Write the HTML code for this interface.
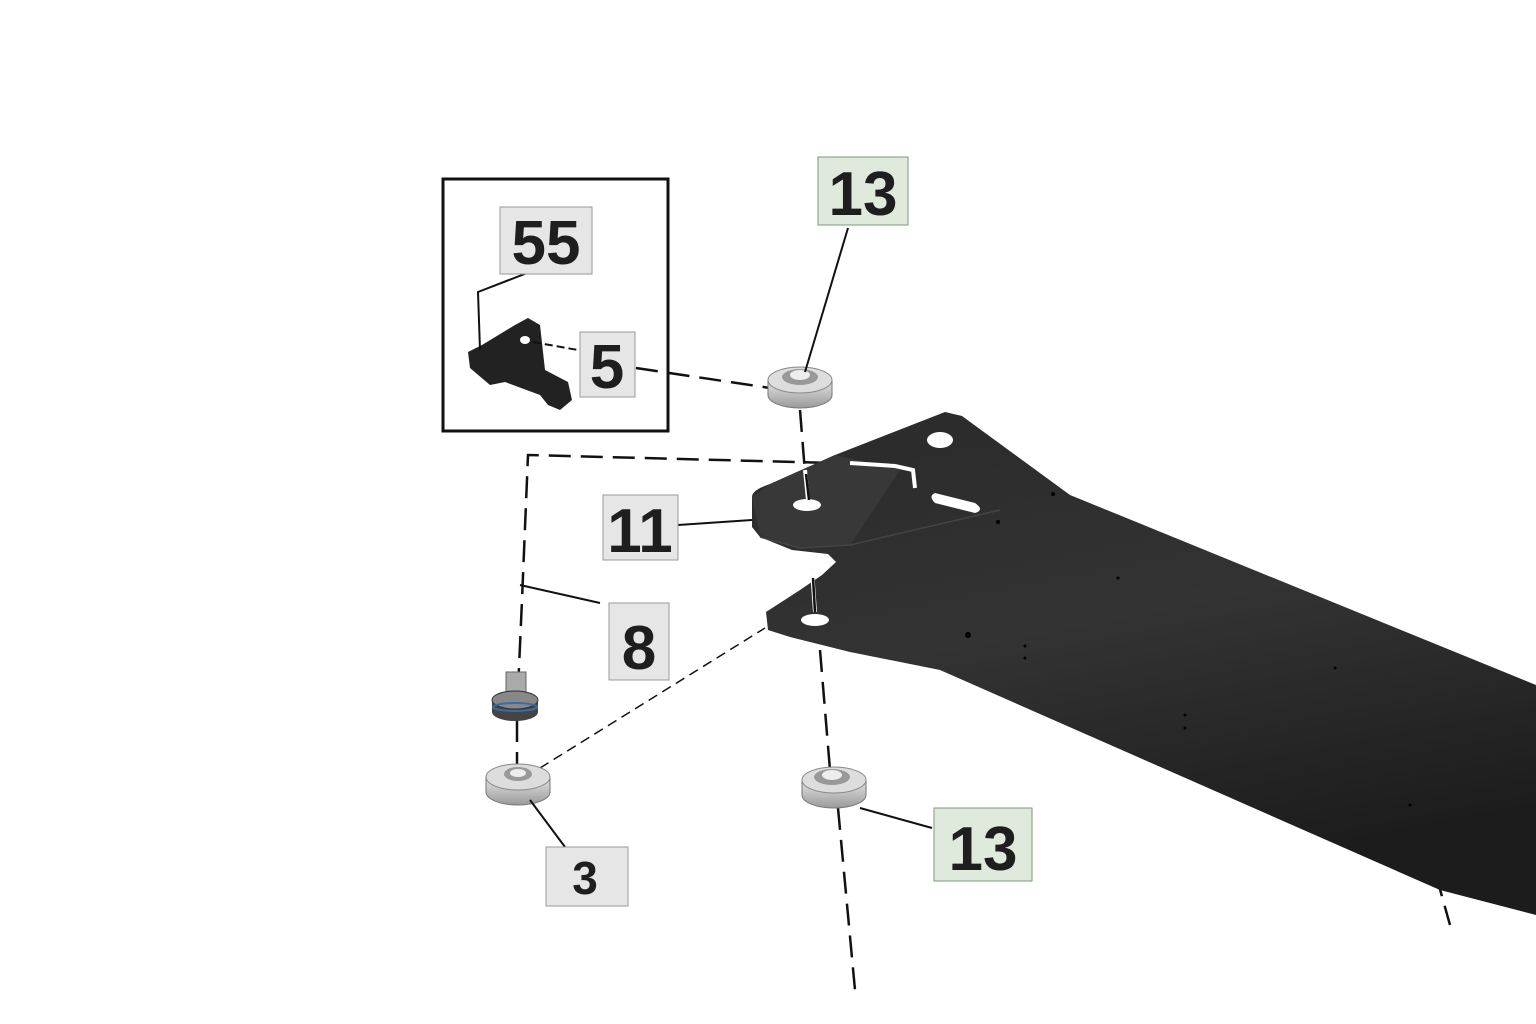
<!DOCTYPE html>
<html><head><meta charset="utf-8"><style>
html,body{margin:0;padding:0;background:#fff;}
svg{display:block}
text{font-family:"Liberation Sans",sans-serif;font-weight:bold;fill:#1e1e1e;text-anchor:middle}
</style></head><body>
<svg width="1536" height="1024" viewBox="0 0 1536 1024">
<defs>
<linearGradient id="beam" x1="0" y1="0" x2="0.3" y2="1">
<stop offset="0" stop-color="#2a2a2a"/><stop offset="0.5" stop-color="#333"/><stop offset="1" stop-color="#1c1c1c"/>
</linearGradient>
<linearGradient id="wash" x1="0" y1="0" x2="0" y2="1">
<stop offset="0" stop-color="#e4e4e4"/><stop offset="1" stop-color="#9a9a9a"/>
</linearGradient>
</defs>
<rect x="443" y="179" width="225" height="252" fill="none" stroke="#111" stroke-width="3"/>
<path d="M468,352 L482,345 L515,325 L528,318 L540,325 L545,370 L568,382 L572,400 L560,410 L548,405 L540,395 L505,382 L490,385 L470,368 Z" fill="#222"/>
<ellipse cx="525" cy="340" rx="5" ry="4" fill="#fff"/>
<polyline points="540,268 478,292 480,350" fill="none" stroke="#111" stroke-width="2"/>
<line x1="533" y1="342" x2="578" y2="350" stroke="#111" stroke-width="2" stroke-dasharray="8,4"/>
<g stroke="#111" fill="none" stroke-width="2.5" stroke-dasharray="22,10">
<line x1="636" y1="368" x2="770" y2="388"/>
<line x1="800" y1="410" x2="808" y2="510"/>
<line x1="812" y1="570" x2="815" y2="625"/>
<line x1="820" y1="650" x2="830" y2="770"/>
<line x1="838" y1="808" x2="855" y2="990"/>
<polyline points="518,690 522,600 528,455 910,465 915,490"/>
<line x1="517" y1="720" x2="517" y2="765"/>
<line x1="1436" y1="875" x2="1450" y2="925"/>
</g>
<g stroke="#111" fill="none" stroke-width="1.5" stroke-dasharray="10,6">
<line x1="540" y1="768" x2="765" y2="628"/>
</g>
<path d="M752,497 Q752,490 770,484 L835,455 L945,412 L962,416 L1070,495 L1536,685 L1536,915 L1440,890 L940,670 L850,652 L790,637 L768,630 L766,612 L800,590 L822,575 L836,562 L828,554 L792,550 L760,537 L752,527 Z" fill="url(#beam)"/>
<path d="M752,497 L770,484 L835,455 L900,470 L850,545 L800,548 L760,535 Z" fill="#383838"/>
<path d="M760,537 L800,548 L850,545 L1000,510" fill="none" stroke="#444" stroke-width="1.5"/>
<ellipse cx="940" cy="440" rx="13" ry="8" fill="#fff"/>
<ellipse cx="807" cy="505" rx="14" ry="6" fill="#fff"/>
<ellipse cx="815" cy="620" rx="14" ry="6" fill="#fff"/>
<path d="M935,493 L975,503 Q985,510 975,513 L935,503 Q928,496 935,493 Z" fill="#fff"/>
<g stroke="#fff" stroke-width="4" fill="none">
<line x1="805" y1="470" x2="808" y2="500"/>
<line x1="812" y1="570" x2="815" y2="612"/>
<polyline points="850,463 895,466 913,470 915,488"/>
</g>
<g stroke="#111" stroke-width="2.5" fill="none">
<line x1="806" y1="474" x2="809" y2="500"/>
<line x1="813" y1="578" x2="815" y2="612"/>
</g>
<g fill="#000"><circle cx="1053" cy="494" r="2"/><circle cx="998" cy="522" r="2"/><circle cx="968" cy="635" r="3"/><circle cx="1025" cy="646" r="1.5"/><circle cx="1025" cy="658" r="1.5"/><circle cx="1118" cy="578" r="1.5"/><circle cx="1335" cy="668" r="1.5"/><circle cx="1185" cy="715" r="1.5"/><circle cx="1185" cy="728" r="1.5"/><circle cx="1410" cy="805" r="1.5"/></g>
<g>
<path d="M768,380 L768,395 A32,13 0 0 0 832,395 L832,380 Z" fill="url(#wash)" stroke="#777"/>
<ellipse cx="800" cy="380" rx="32" ry="13" fill="#ddd" stroke="#888"/>
<ellipse cx="800" cy="377" rx="18" ry="8" fill="#999"/>
<ellipse cx="800" cy="375" rx="10" ry="5" fill="#eee"/>
</g>
<g>
<path d="M802,780 L802,795 A32,13 0 0 0 866,795 L866,780 Z" fill="url(#wash)" stroke="#777"/>
<ellipse cx="834" cy="780" rx="32" ry="13" fill="#ddd" stroke="#888"/>
<ellipse cx="832" cy="777" rx="18" ry="8" fill="#999"/>
<ellipse cx="832" cy="775" rx="10" ry="5" fill="#eee"/>
</g>
<g>
<path d="M486,777 L486,792 A32,13 0 0 0 550,792 L550,777 Z" fill="url(#wash)" stroke="#777"/>
<ellipse cx="518" cy="777" rx="32" ry="13" fill="#ddd" stroke="#888"/>
<ellipse cx="518" cy="774" rx="14" ry="7" fill="#999"/>
<ellipse cx="518" cy="773" rx="8" ry="4" fill="#eee"/>
</g>
<g>
<rect x="506" y="672" width="20" height="26" fill="#aaa" stroke="#666"/>
<path d="M492,700 L492,712 A23,9 0 0 0 538,712 L538,700 Z" fill="#444"/>
<ellipse cx="515" cy="700" rx="23" ry="9" fill="#888" stroke="#333"/>
<ellipse cx="515" cy="707" rx="22" ry="4" fill="none" stroke="#3a6da8" stroke-width="2"/>
</g>
<g stroke="#111" stroke-width="2" fill="none">
<line x1="848" y1="228" x2="805" y2="372"/>
<line x1="678" y1="525" x2="752" y2="520"/>
<polyline points="520,585 600,603"/>
<line x1="530" y1="800" x2="565" y2="847"/>
<line x1="860" y1="808" x2="932" y2="828"/>
</g>
<rect x="500" y="207" width="92" height="67" fill="#e6e6e6" stroke="#999"/>
<text x="546" y="264" font-size="62">55</text>
<rect x="580" y="332" width="55" height="65" fill="#e6e6e6" stroke="#999"/>
<text x="607" y="388" font-size="62">5</text>
<rect x="818" y="157" width="90" height="68" fill="#dfe9dc" stroke="#7a9a78"/>
<text x="863" y="215" font-size="62">13</text>
<rect x="603" y="495" width="75" height="65" fill="#e6e6e6" stroke="#999"/>
<text x="640" y="552" font-size="62">11</text>
<rect x="609" y="603" width="60" height="77" fill="#e6e6e6" stroke="#999"/>
<text x="639" y="669" font-size="62">8</text>
<rect x="546" y="847" width="82" height="59" fill="#e6e6e6" stroke="#999"/>
<text x="585" y="894" font-size="46">3</text>
<rect x="934" y="808" width="98" height="73" fill="#dfe9dc" stroke="#7a9a78"/>
<text x="983" y="870" font-size="62">13</text>
</svg>
</body></html>
